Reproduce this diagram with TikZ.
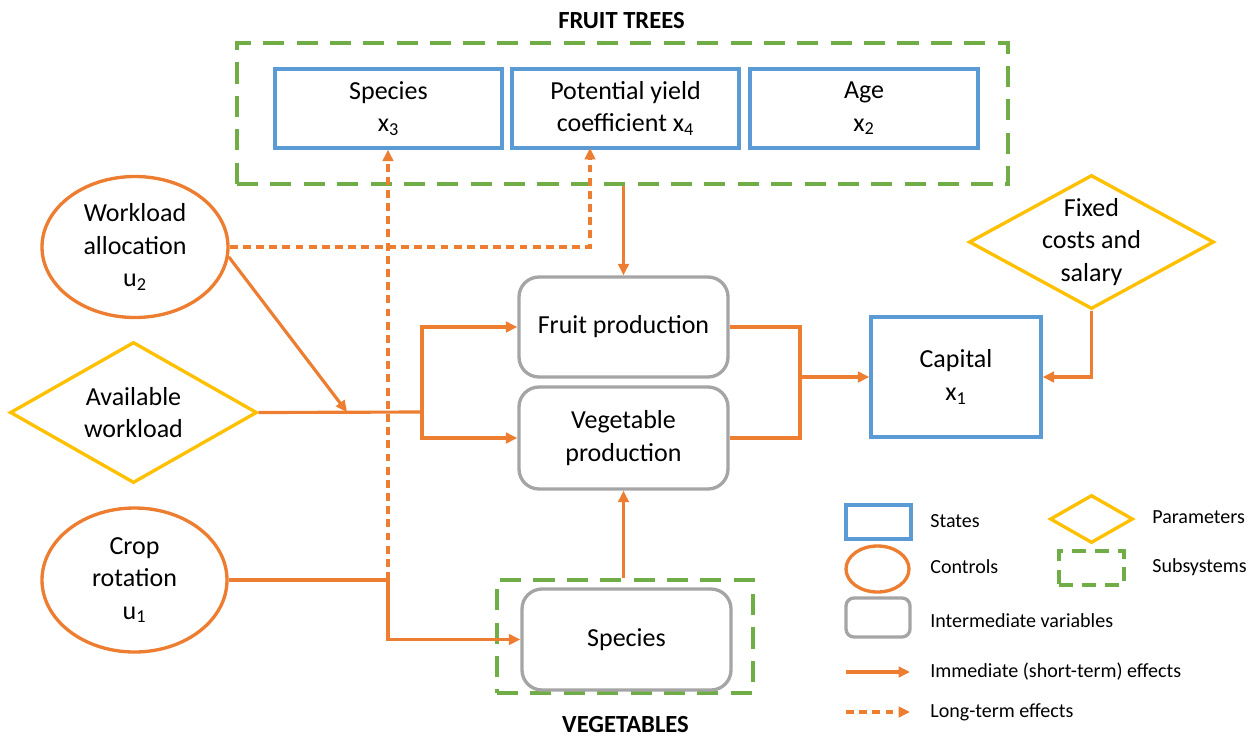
\documentclass[tikz,border=0pt]{standalone}
\usepackage{fontspec}
\setmainfont{Carlito}
\usetikzlibrary{arrows.meta,shapes.geometric}
\newdimen\pxu \pxu=0.02cm
\definecolor{cOr}{HTML}{ED7D31}
\definecolor{cBl}{HTML}{5B9BD5}
\definecolor{cYe}{HTML}{FFC000}
\definecolor{cGr}{HTML}{70AD47}
\definecolor{cGy}{HTML}{A5A5A5}
\begin{document}
\begin{tikzpicture}[x=0.02cm,y=-0.02cm,
 font=\fontsize{14.8}{18.5}\selectfont,
 state/.style={draw=cBl,line width=1.9pt,rectangle,align=center,inner sep=0pt},
 ctrl/.style={draw=cOr,line width=1.9pt,ellipse,align=center,inner sep=0pt},
 param/.style={draw=cYe,line width=1.9pt,diamond,align=center,inner sep=0pt,aspect=1.8},
 inter/.style={draw=cGy,line width=1.9pt,rectangle,rounded corners=20\pxu,align=center,inner sep=0pt},
 sub/.style={draw=cGr,line width=1.9pt,rectangle,dash pattern=on 12pt off 7pt,inner sep=0pt},
 line/.style={draw=cOr,line width=1.8pt},
 eff/.style={line,-{Triangle[length=6.5pt,width=6pt]}},
 lte/.style={eff,dash pattern=on 4.5pt off 3pt},
 ttl/.style={font=\fontsize{14}{16}\selectfont\bfseries,inner sep=0pt},
 leg/.style={font=\fontsize{11.4}{14}\selectfont,anchor=west,inner sep=0pt}
]
\useasboundingbox (0,0) rectangle (1254,738);

% titles
\node[ttl] (t1) at (621.5,20.5) {FRUIT TREES};
\node[ttl] (t2) at (625.5,725) {VEGETABLES};

% subsystems
\node[sub,minimum width=771\pxu,minimum height=141\pxu] (ft) at (622.5,113.5) {};
\node[sub,minimum width=256\pxu,minimum height=113\pxu] (vg) at (625,636.5) {};

% states
\node[state,minimum width=227\pxu,minimum height=79\pxu] (sp) at (388.5,108.5) {Species\\x\textsubscript{3}};
\node[state,minimum width=227\pxu,minimum height=79\pxu] (py) at (625.5,108.5) {Potential yield\\coefficient x\textsubscript{4}};
\node[state,minimum width=228\pxu,minimum height=79\pxu] (age) at (864,108.5) {Age\\x\textsubscript{2}};
\node[state,minimum width=170\pxu,minimum height=120\pxu] (cap) at (956,377) {Capital\\x\textsubscript{1}};

% controls
\node[ctrl,minimum width=186\pxu,minimum height=141\pxu] (wl) at (135,247) {Workload\\allocation\\u\textsubscript{2}};
\node[ctrl,minimum width=185\pxu,minimum height=144\pxu] (cr) at (134.5,580) {Crop\\rotation\\u\textsubscript{1}};

% parameters
\node[param,minimum width=247\pxu,minimum height=141\pxu] (aw) at (133.5,412.5) {Available\\workload};
\node[param,inner sep=-2pt,minimum width=245\pxu,minimum height=134\pxu] (fc) at (1091.5,242) {Fixed\\costs and\\salary};

% intermediate
\node[inter,minimum width=209\pxu,minimum height=100\pxu] (fp) at (623.5,327) {Fruit production};
\node[inter,minimum width=209\pxu,minimum height=102\pxu] (vp) at (623.5,438) {Vegetable\\production};
\node[inter,minimum width=209\pxu,minimum height=101\pxu] (vsp) at (626.5,639.5) {Species};

% junction coordinates
\coordinate (j1) at (388,580);
\coordinate (pyin) at (590,148);
\coordinate (j2) at (422,412);
\coordinate (j3) at (347,412);
\coordinate (r) at (800,377);

% connectors
\draw[lte] (wl.east) -| (pyin);
\draw[lte] (j1) -- (j1 |- sp.south);
\draw[line] (cr.east) -- (j1);
\draw[eff] (j1) |- (vsp.west);
\draw[line] (aw.east) -- (j2);
\draw[eff] (wl.-6) -- (j3);
\draw[eff] (j2) |- (fp.west);
\draw[eff] (j2) |- (vp.west);
\draw[eff] (ft.south -| fp.north) -- (fp.north);
\draw[eff] (vg.north -| vp.south) -- (vp.south);
\draw[line] (fp.east) -| (r |- vp.east) -- (vp.east);
\draw[eff] (r) -- (cap.west);
\draw[eff] (fc.south) |- (cap.east);

% legend
\node[state,minimum width=65\pxu,minimum height=34\pxu] (lst) at (878.5,522) {};
\node[leg] (lstt) at (930,521) {States};
\node[draw=cYe,line width=1.9pt,diamond,inner sep=0pt,minimum width=83\pxu,minimum height=48\pxu] (lpar) at (1091.5,519) {};
\node[leg] (lpart) at (1152,517) {Parameters};
\node[ctrl,minimum width=63\pxu,minimum height=46\pxu] (lctrl) at (877.5,569) {};
\node[leg] (lctrlt) at (930,567) {Controls};
\node[draw=cGr,line width=1.9pt,rectangle,dash pattern=on 8pt off 5pt,inner sep=0pt,minimum width=65\pxu,minimum height=34\pxu] (lsub) at (1091.5,568) {};
\node[leg] (lsubt) at (1152,567) {Subsystems};
\node[draw=cGy,line width=1.9pt,rectangle,rounded corners=8\pxu,inner sep=0pt,minimum width=64\pxu,minimum height=39\pxu] (lint) at (878,617.5) {};
\node[leg] (lintt) at (930,621) {Intermediate variables};
\coordinate (la1) at (846,672);
\coordinate (la2) at (910,672);
\draw[eff] (la1) -- (la2);
\node[leg] (limt) at (930,672) {Immediate (short-term) effects};
\coordinate (lb1) at (846,712);
\coordinate (lb2) at (910,712);
\draw[lte] (lb1) -- (lb2);
\node[leg] (llt) at (930,712) {Long-term effects};
\end{tikzpicture}
\end{document}
